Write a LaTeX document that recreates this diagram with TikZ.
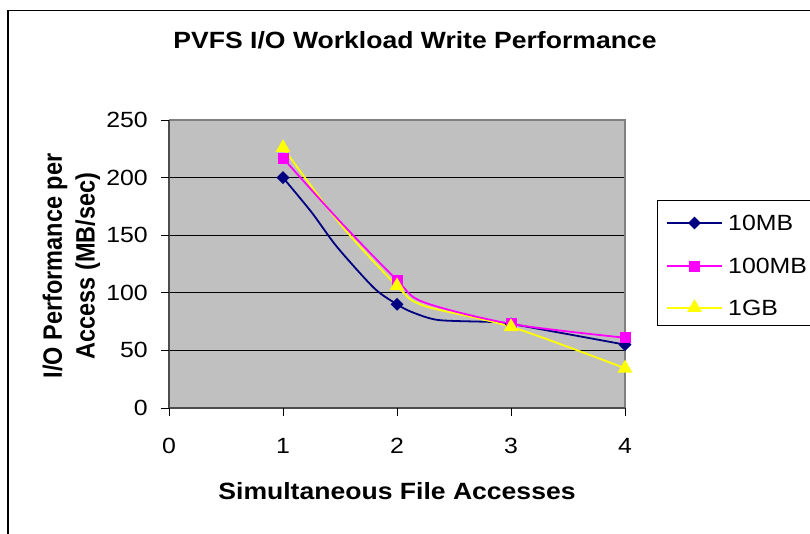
\documentclass[tikz,border=0pt]{standalone}
\usepackage{graphicx}
\usepackage{fontspec}
\setmainfont{Liberation Sans}
\usetikzlibrary{shapes.geometric,calc}
\definecolor{navyc}{HTML}{000080}
\definecolor{magc}{HTML}{FF00FF}
\definecolor{yelc}{HTML}{FFFF00}
\definecolor{plotbg}{HTML}{C0C0C0}
\definecolor{bordc}{HTML}{808080}
\newcommand{\sx}[1]{\scalebox{1.13}[1]{#1}}
\tikzset{
  ticklab/.style={inner sep=0pt, font=\fontsize{22}{26}\selectfont},
  axtitle/.style={inner sep=0pt, font=\fontsize{23.5}{27}\selectfont\bfseries},
  gridln/.style={black, line width=1pt},
  axisln/.style={draw=black!70, line width=1.6pt},
  tickln/.style={black, line width=1pt},
  ser10/.style={navyc, line width=1.8pt},
  ser100/.style={magc, line width=1.8pt},
  ser1g/.style={yelc, line width=1.8pt},
  mk10/.style={diamond, fill=navyc, inner sep=0pt, minimum width=13pt, minimum height=13pt},
  mk100/.style={rectangle, fill=magc, inner sep=0pt, minimum size=11pt},
  mk1g/.style={regular polygon, regular polygon sides=3, fill=yelc, inner sep=0pt, minimum size=17pt},
  legtext/.style={inner sep=0pt, anchor=base west, font=\fontsize{22}{26}\selectfont}
}
\begin{document}
\begin{tikzpicture}[x=1pt, y=-1pt]
\useasboundingbox (0,0) rectangle (810,533);
\fill[white] (0,0) rectangle (810,533);
% outer frame
\draw[black, line width=1.2pt] (8,560) -- (8,10.7) -- (840,10.7);
% title
\node[axtitle, anchor=base] (title) at (415,48) {\sx{PVFS I/O Workload Write Performance}};
% plot area
\fill[plotbg] (169,120) rectangle (625,408);
\foreach \yy in {350.4,292.8,235.2,177.6}
  \draw[gridln] (169,\yy) -- (625,\yy);
\draw[bordc, line width=1.6pt] (169,120) -- (625,120) -- (625,408);
\draw[axisln] (169,120) -- (169,408) -- (625,408);
\foreach \yy/\lab in {408/0,350.4/50,292.8/100,235.2/150,177.6/200,120/250}{
  \draw[tickln] (161,\yy) -- (169,\yy);
  \node[ticklab, anchor=east] (yl\lab) at (148,\yy) {\sx{\lab}};
}
\foreach \xx/\lab in {169/0,283/1,397/2,511/3,625/4}{
  \draw[tickln] (\xx,408) -- (\xx,416);
  \node[ticklab] (xl\lab) at (\xx,446) {\sx{\lab}};
}
% axis titles
\node[axtitle, anchor=base] (xtitle) at (397,499) {\sx{Simultaneous File Accesses}};
\node[inner sep=0pt, rotate=90, font=\fontsize{23.5}{29}\selectfont\bfseries] (ytitle) at (71.8,266)
  {\scalebox{1}[1.13]{\setlength{\tabcolsep}{0pt}\begin{tabular}{c}I/O Performance per\\Access (MB/sec)\end{tabular}}};
% data
\begin{scope}[shift={(169pt,-408pt)}, x=114pt, y=1.152pt]
  \coordinate (a1) at (1,200); \coordinate (a2) at (2,90); \coordinate (a3) at (3,73); \coordinate (a4) at (4,55);
  \coordinate (b1) at (1,217); \coordinate (b2) at (2,111); \coordinate (b3) at (3,73); \coordinate (b4) at (4,61);
  \coordinate (c1) at (1,226); \coordinate (c2) at (2,106); \coordinate (c3) at (3,70.5); \coordinate (c4) at (4,34.5);
  \draw[ser10] plot[smooth, tension=0.45] coordinates {(a1) (1.25,170) (1.474,139.8) (1.8,104) (a2) (2.13,83.3) (2.36,76.4) (2.82,74.7) (a3) (a4)};
  \draw[ser1g] plot[smooth, tension=0.5] coordinates {(c1) (1.5,160) (c2) (2.23,89) (c3) (c4)};
  \draw[ser100] plot[smooth, tension=0.5] coordinates {(b1) (1.5,162) (b2) (2.23,92) (b3) (b4)};
  \node[mk10] (m10a) at (a1) {}; \node[mk10] (m10b) at (a2) {}; \node[mk10] (m10c) at (a3) {}; \node[mk10] (m10d) at (a4) {};
  \node[mk100] (m100a) at (b1) {}; \node[mk100] (m100b) at (b2) {}; \node[mk100] (m100c) at (b3) {}; \node[mk100] (m100d) at (b4) {};
  \node[mk1g] (m1ga) at (c1) {}; \node[mk1g] (m1gb) at (c2) {}; \node[mk1g] (m1gc) at (c3) {}; \node[mk1g] (m1gd) at (c4) {};
\end{scope}
% legend
\draw[black, line width=1pt, fill=white] (657,200.7) rectangle (830,325.7);
\coordinate (l1a) at (667,223); \coordinate (l1b) at (722,223);
\coordinate (l2a) at (667,266); \coordinate (l2b) at (722,266);
\coordinate (l3a) at (667,307.7); \coordinate (l3b) at (722,307.7);
\draw[ser10] (l1a) -- (l1b);
\draw[ser100] (l2a) -- (l2b);
\draw[ser1g] (l3a) -- (l3b);
\node[mk10] (lm1) at ($(l1a)!0.5!(l1b)$) {};
\node[mk100] (lm2) at ($(l2a)!0.5!(l2b)$) {};
\node[mk1g] (lm3) at ($(l3a)!0.5!(l3b)$) {};
\node[legtext] (lt1) at (728,230) {\sx{10MB}};
\node[legtext] (lt2) at (728,273) {\sx{100MB}};
\node[legtext] (lt3) at (728,315) {\sx{1GB}};
\end{tikzpicture}
\end{document}
